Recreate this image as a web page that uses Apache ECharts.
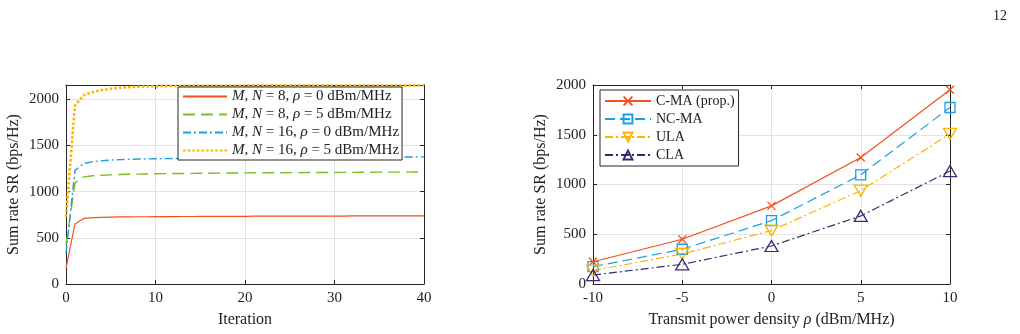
<!DOCTYPE html>
<html>
<head>
<meta charset="utf-8">
<script src="https://cdn.jsdelivr.net/npm/echarts@6/dist/echarts.min.js"></script>
<style>
  html, body { margin: 0; padding: 0; background: #fff; }
  #chart { width: 1020px; height: 334px; }
</style>
</head>
<body>
<div id="chart"></div>
<script>
// left panel: convergence over iterations
var iterations = [];
for (var k = 0; k <= 40; k++) iterations.push(k);
var convNames = ['M, N = 8, ρ = 0 dBm/MHz', 'M, N = 8, ρ = 5 dBm/MHz',
                 'M, N = 16, ρ = 0 dBm/MHz', 'M, N = 16, ρ = 5 dBm/MHz'];
var srM8P0 = [170, 650, 710, 718, 722, 724, 726, 727, 728, 728, 729, 730, 730, 731, 731, 732, 732, 732, 733, 733,
              733, 734, 734, 734, 735, 735, 735, 735, 736, 736, 736, 736, 737, 737, 737, 737, 738, 738, 738, 738, 738];
var srM8P5 = [420, 1090, 1160, 1172, 1178, 1182, 1185, 1188, 1190, 1192, 1194, 1195, 1196, 1197, 1198, 1199, 1200, 1201, 1202, 1202,
              1203, 1204, 1204, 1205, 1205, 1206, 1206, 1207, 1207, 1208, 1208, 1209, 1209, 1210, 1210, 1211, 1211, 1212, 1212, 1213, 1213];
var srM16P0 = [330, 1230, 1305, 1325, 1335, 1342, 1347, 1350, 1353, 1355, 1357, 1358, 1359, 1360, 1361, 1362, 1363, 1364, 1365, 1366,
               1366, 1367, 1368, 1368, 1369, 1369, 1370, 1370, 1371, 1371, 1372, 1372, 1373, 1373, 1374, 1374, 1375, 1375, 1376, 1376, 1377];
var srM16P5 = [730, 1935, 2045, 2080, 2100, 2115, 2124, 2131, 2136, 2139, 2142, 2143, 2144, 2145, 2145, 2146, 2146, 2147, 2147, 2147,
               2148, 2148, 2148, 2148, 2149, 2149, 2149, 2149, 2149, 2149, 2150, 2150, 2150, 2150, 2150, 2150, 2150, 2150, 2150, 2150, 2150];

// right panel: sum rate vs power density
var powerDensity = [-10, -5, 0, 5, 10];
var schemeNames = ['C-MA (prop.)', 'NC-MA', 'ULA', 'CLA'];
var srCMA = [224, 450, 785, 1271, 1952];
var srNCMA = [174, 349, 637, 1097, 1774];
var srULA = [134, 302, 537, 939, 1509];
var srCLA = [90, 198, 382, 684, 1135];

var RED = '#f4511e', GREEN = '#7cbf1e', BLUE = '#1a9fe6', YELLOW = '#ffb300', PURPLE = '#3a2a6e';
var FONT = 'Liberation Serif';
var AX = '#262626';

function pairs(xs, ys) {
    return xs.map(function (x, i) { return [x, ys[i]]; });
}

function italicize(name) {
    return name.replace(/M, N/, '{i|M}, {i|N}').replace(/ρ/, '{i|ρ}');
}

function mainAxis(pos, grid, min, max, interval, extra) {
    var a = {
        type: 'value', gridIndex: grid, position: pos, min: min, max: max, interval: interval,
        axisLine: { show: true, onZero: false, lineStyle: { color: AX, width: 1 } },
        axisTick: { show: true, inside: true, length: 4, lineStyle: { color: AX } },
        axisLabel: { color: '#222', fontFamily: FONT, fontSize: 15, margin: 7,
                     showMaxLabel: interval * Math.round(max / interval) === max,
                     formatter: function (v) { return String(v); } },
        splitLine: { show: true, lineStyle: { color: '#e3e3e3', width: 1 } }
    };
    for (var k in extra) a[k] = extra[k];
    return a;
}

function mirrorAxis(pos, grid, min, max, interval) {
    return {
        type: 'value', gridIndex: grid, position: pos, min: min, max: max, interval: interval,
        axisLine: { show: true, onZero: false, lineStyle: { color: AX, width: 1 } },
        axisTick: { show: true, inside: true, length: 4, lineStyle: { color: AX } },
        axisLabel: { show: false },
        splitLine: { show: false }
    };
}

var nameStyle = { fontFamily: FONT, fontSize: 16, color: '#222',
    rich: { i: { fontFamily: FONT, fontSize: 16, fontStyle: 'italic', color: '#222' } } };

var chart = echarts.init(document.getElementById('chart'));

var option = {
    animation: false,
    backgroundColor: '#fff',
    title: {
        text: '12', right: 8, top: 4,
        textStyle: { fontFamily: FONT, fontSize: 14, fontWeight: 'normal', color: '#222' }
    },
    grid: [
        { left: 66, top: 85, width: 358, height: 199 },
        { left: 593, top: 85, width: 357, height: 199 }
    ],
    xAxis: [
        mainAxis('bottom', 0, 0, 40, 10, { name: 'Iteration', nameLocation: 'middle', nameGap: 28, nameTextStyle: nameStyle }),
        mirrorAxis('top', 0, 0, 40, 10),
        mainAxis('bottom', 1, -10, 10, 5, {
            name: 'Transmit power density {i|ρ} (dBm/MHz)', nameLocation: 'middle', nameGap: 28, nameTextStyle: nameStyle
        }),
        mirrorAxis('top', 1, -10, 10, 5)
    ],
    yAxis: [
        mainAxis('left', 0, 0, 2155, 500, { name: 'Sum rate SR (bps/Hz)', nameLocation: 'middle', nameGap: 44, nameTextStyle: nameStyle }),
        mirrorAxis('right', 0, 0, 2155, 500),
        mainAxis('left', 1, 0, 2000, 500, { name: 'Sum rate SR (bps/Hz)', nameLocation: 'middle', nameGap: 44, nameTextStyle: nameStyle }),
        mirrorAxis('right', 1, 0, 2000, 500)
    ],
    legend: [
        {
            data: convNames, orient: 'vertical', left: 178, top: 87,
            itemWidth: 44, itemHeight: 14, itemGap: 3,
            itemStyle: { opacity: 0 },
            backgroundColor: '#fff', borderColor: AX, borderWidth: 1, borderRadius: 0,
            padding: [2, 3, 2, 4],
            formatter: italicize,
            textStyle: { fontFamily: FONT, fontSize: 15, color: '#222',
                rich: { i: { fontFamily: FONT, fontSize: 15, fontStyle: 'italic', color: '#222' } } }
        },
        {
            data: schemeNames, orient: 'vertical', left: 600, top: 90,
            itemWidth: 46, itemHeight: 11, itemGap: 4,
            backgroundColor: '#fff', borderColor: AX, borderWidth: 1, borderRadius: 0,
            padding: [4, 4, 4, 4],
            textStyle: { fontFamily: FONT, fontSize: 14, color: '#222' }
        }
    ],
    series: [
        { name: convNames[0], type: 'line', xAxisIndex: 0, yAxisIndex: 0, data: pairs(iterations, srM8P0),
          showSymbol: false, symbol: 'none', color: RED, lineStyle: { color: RED, width: 1.2, type: 'solid' } },
        { name: convNames[1], type: 'line', xAxisIndex: 0, yAxisIndex: 0, data: pairs(iterations, srM8P5),
          showSymbol: false, symbol: 'none', color: GREEN, lineStyle: { color: GREEN, width: 1.4, type: [12, 6] } },
        { name: convNames[2], type: 'line', xAxisIndex: 0, yAxisIndex: 0, data: pairs(iterations, srM16P0),
          showSymbol: false, symbol: 'none', color: BLUE, lineStyle: { color: BLUE, width: 1.4, type: [8, 3, 2, 3] } },
        { name: convNames[3], type: 'line', xAxisIndex: 0, yAxisIndex: 0, data: pairs(iterations, srM16P5),
          showSymbol: false, symbol: 'none', color: YELLOW, lineStyle: { color: YELLOW, width: 2.6, type: [2.6, 2] } },

        { name: schemeNames[0], type: 'line', xAxisIndex: 2, yAxisIndex: 2, data: pairs(powerDensity, srCMA),
          symbol: 'path://M0,0L10,10M10,0L0,10', symbolSize: 8, color: RED,
          itemStyle: { color: 'rgba(255,255,255,0)', borderColor: RED, borderWidth: 1.3 },
          lineStyle: { color: RED, width: 1.2, type: 'solid' } },
        { name: schemeNames[1], type: 'line', xAxisIndex: 2, yAxisIndex: 2, data: pairs(powerDensity, srNCMA),
          symbol: 'rect', symbolSize: 10, color: BLUE,
          itemStyle: { color: 'rgba(255,255,255,0)', borderColor: BLUE, borderWidth: 1.3 },
          lineStyle: { color: BLUE, width: 1.2, type: [10, 5] } },
        { name: schemeNames[2], type: 'line', xAxisIndex: 2, yAxisIndex: 2, data: pairs(powerDensity, srULA),
          symbol: 'triangle', symbolRotate: 180, symbolSize: [13, 11], color: YELLOW,
          itemStyle: { color: 'rgba(255,255,255,0)', borderColor: YELLOW, borderWidth: 1.3 },
          lineStyle: { color: YELLOW, width: 1.2, type: [8, 3, 2, 3] } },
        { name: schemeNames[3], type: 'line', xAxisIndex: 2, yAxisIndex: 2, data: pairs(powerDensity, srCLA),
          symbol: 'triangle', symbolSize: [13, 11], color: PURPLE,
          itemStyle: { color: 'rgba(255,255,255,0)', borderColor: PURPLE, borderWidth: 1.3 },
          lineStyle: { color: PURPLE, width: 1.2, type: [8, 3, 2, 3] } }
    ]
};

chart.setOption(option);
</script>
</body>
</html>
